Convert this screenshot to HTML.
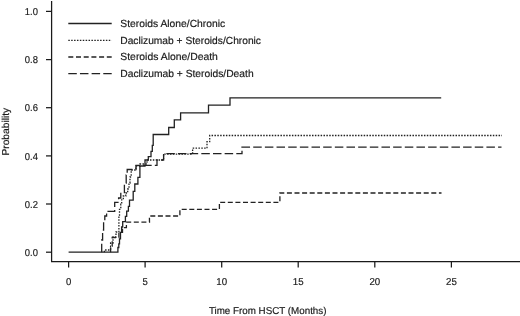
<!DOCTYPE html>
<html lang="en"><head><meta charset="utf-8"><title>Cumulative incidence</title>
<style>html,body{margin:0;padding:0;background:#fff}svg{display:block}</style></head>
<body>
<svg xmlns="http://www.w3.org/2000/svg" width="520" height="316" viewBox="0 0 520 316" text-rendering="geometricPrecision">
<rect width="520" height="316" fill="#fff"/>
<g fill="none" stroke="#1a1a1a" stroke-width="1.25">
<path d="M51.6 1.1V261.7H520"/>
<path d="M46 252.2H51.6"/>
<path d="M46 204.0H51.6"/>
<path d="M46 155.9H51.6"/>
<path d="M46 107.7H51.6"/>
<path d="M46 59.6H51.6"/>
<path d="M46 11.4H51.6"/>
<path d="M68.6 261.7V267.5"/>
<path d="M145.1 261.7V267.5"/>
<path d="M221.7 261.7V267.5"/>
<path d="M298.2 261.7V267.5"/>
<path d="M374.8 261.7V267.5"/>
<path d="M451.4 261.7V267.5"/>
</g>
<g fill="none" stroke="#222" stroke-width="1.3" stroke-linejoin="miter">
<polyline points="68.6,252.2 117.9,252.2 117.9,247.5 118.8,247.5 118.8,243.8 119.5,243.8 119.5,238.9 120.5,238.9 120.5,232.4 121.6,232.4 121.6,227.0 122.7,227.0 122.7,221.7 125.4,221.7 125.4,216.3 126.7,216.3 126.7,211.2 128.4,211.2 128.4,206.4 129.5,206.4 129.5,200.2 133.2,200.2 133.2,191.3 134.8,191.3 134.8,184.0 137.9,184.0 137.9,177.3 139.9,177.3 139.9,166.0 145.0,166.0 145.0,160.0 148.3,160.0 148.3,156.6 151.0,156.6 151.0,151.3 152.3,151.3 152.3,145.3 153.2,145.3 153.2,134.5 168.7,134.5 168.7,127.5 174.3,127.5 174.3,119.9 180.6,119.9 180.6,112.8 208.5,112.8 208.5,105.2 230.0,105.2 230.0,97.8 441.2,97.8"/>
<polyline points="104.4,252.2 104.4,250.0 110.6,250.0 110.6,243.0 113.0,243.0 113.0,237.0 116.0,237.0 116.0,232.0 118.9,232.0 118.9,216.0 119.5,216.0 119.5,209.3 120.8,209.3 120.8,204.2 121.7,204.2 121.7,199.8 123.3,199.8 123.3,196.0 125.8,196.0 125.8,193.0 127.7,193.0 127.7,189.0 129.0,189.0 129.0,183.0 130.0,183.0 130.0,177.0 131.2,177.0 131.2,170.0 136.0,170.0 136.0,166.0 140.0,166.0 140.0,164.0 147.0,164.0 147.0,160.0 163.6,160.0 163.6,154.2 192.6,154.2 192.6,148.2 207.0,148.2 207.0,141.7 209.7,141.7 209.7,135.5 502.0,135.5" stroke-dasharray="1.5 1.37"/>
<polyline points="110.6,252.2 110.6,246.0 112.2,246.0 112.2,237.5 118.9,237.5 118.9,232.4 122.5,232.4 122.5,227.6 126.4,227.6 126.4,222.2 149.5,222.2 149.4,216.0 179.9,216.0 179.9,209.4 219.4,209.4 219.4,202.3 279.9,202.3 279.9,193.0 441.5,193.0" stroke-dasharray="5 2.6"/>
<polyline points="101.7,252.2 101.7,240.0 102.6,240.0 102.6,230.0 103.6,230.0 103.6,222.0 104.8,222.0 104.8,216.0 106.6,216.0 106.6,211.3 114.7,211.3 114.7,202.3 118.6,202.3 118.6,198.0 120.8,198.0 120.8,193.5 124.4,193.5 124.4,183.0 126.2,183.0 126.2,175.0 127.2,175.0 127.2,169.5 136.0,169.5 136.0,165.4 157.0,165.4 157.0,160.0 163.6,160.0 163.6,153.6 242.0,153.6 242.0,147.2 501.5,147.2" stroke-dasharray="8.5 3.16"/>
<path d="M68.3 23.5H111.7"/>
<path d="M68.3 40.3H111.7" stroke-dasharray="1.5 1.39"/>
<path d="M68.3 57H111.7" stroke-dasharray="5 2.7"/>
<path d="M68.3 73.6H111.7" stroke-dasharray="8.5 3.16"/>
</g>
<g fill="#1a1a1a" stroke="#1a1a1a" stroke-width="0.18" font-family="'Liberation Sans', sans-serif" font-size="10.3">
<text x="120.3" y="27.0" textLength="104.9" lengthAdjust="spacingAndGlyphs">Steroids Alone/Chronic</text>
<text x="120.3" y="43.8" textLength="140.7" lengthAdjust="spacingAndGlyphs">Daclizumab + Steroids/Chronic</text>
<text x="120.3" y="60.2" textLength="97.6" lengthAdjust="spacingAndGlyphs">Steroids Alone/Death</text>
<text x="120.3" y="77.1" textLength="133.3" lengthAdjust="spacingAndGlyphs">Daclizumab + Steroids/Death</text>
</g>
<g fill="#1a1a1a" stroke="#1a1a1a" stroke-width="0.18" font-family="'Liberation Sans', sans-serif" font-size="10">
<text x="37.9" y="255.9" text-anchor="end" textLength="13.1" lengthAdjust="spacingAndGlyphs">0.0</text>
<text x="37.9" y="207.7" text-anchor="end" textLength="13.1" lengthAdjust="spacingAndGlyphs">0.2</text>
<text x="37.9" y="159.6" text-anchor="end" textLength="13.1" lengthAdjust="spacingAndGlyphs">0.4</text>
<text x="37.9" y="111.4" text-anchor="end" textLength="13.1" lengthAdjust="spacingAndGlyphs">0.6</text>
<text x="37.9" y="63.3" text-anchor="end" textLength="13.1" lengthAdjust="spacingAndGlyphs">0.8</text>
<text x="37.9" y="15.1" text-anchor="end" textLength="13.1" lengthAdjust="spacingAndGlyphs">1.0</text>
<text x="68.6" y="285" text-anchor="middle" textLength="5.3" lengthAdjust="spacingAndGlyphs">0</text>
<text x="145.1" y="285" text-anchor="middle" textLength="5.3" lengthAdjust="spacingAndGlyphs">5</text>
<text x="221.7" y="285" text-anchor="middle" textLength="10.8" lengthAdjust="spacingAndGlyphs">10</text>
<text x="298.2" y="285" text-anchor="middle" textLength="10.8" lengthAdjust="spacingAndGlyphs">15</text>
<text x="374.8" y="285" text-anchor="middle" textLength="10.8" lengthAdjust="spacingAndGlyphs">20</text>
<text x="451.4" y="285" text-anchor="middle" textLength="10.8" lengthAdjust="spacingAndGlyphs">25</text>
<text x="208.9" y="313.7" textLength="117.6" lengthAdjust="spacingAndGlyphs">Time From HSCT (Months)</text>
<text transform="translate(9.2 155.6) rotate(-90)" textLength="47.8" lengthAdjust="spacingAndGlyphs">Probability</text>
</g>
</svg>
</body></html>
